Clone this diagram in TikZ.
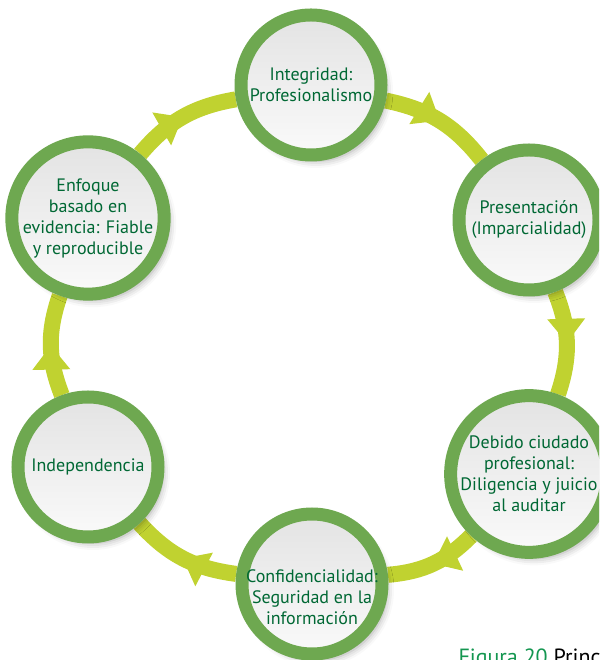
\documentclass[tikz,border=0pt]{standalone}
\usepackage{fontspec}
\setmainfont{PT Sans}
\usepackage{tikz}
\usetikzlibrary{arrows.meta, positioning, shadows.blur, decorations.markings, backgrounds}

\definecolor{ringgreen}{RGB}{110,168,80}
\definecolor{limegreen}{RGB}{192,210,48}
\definecolor{textgreen}{RGB}{0,104,52}
\definecolor{capgreen}{RGB}{20,150,80}

\begin{document}
\begin{tikzpicture}[x=1pt, y=1pt, on grid, font=\fontsize{18}{21}\selectfont,
	principle/.style={circle, draw=ringgreen, line width=13pt, minimum size=140pt, inner sep=0pt,
		top color=black!11, bottom color=black!2, text=textgreen, align=center,
		blur shadow={shadow xshift=5pt, shadow yshift=-6pt, shadow blur radius=7pt, shadow opacity=35}},
	flow/.style={draw=limegreen, line width=16pt, bend left=20, postaction={decorate},
		decoration={markings, mark=at position 0.5 with
			{\arrow[limegreen]{Triangle[width=38pt, length=24pt, line width=0pt]}}}}]
	% Frame of the figure
	\useasboundingbox (0,0) rectangle (599,660);
	\clip (0,0) rectangle (599,660);
	% Top circle: the others are placed from this one, clockwise
	\node (integ) [principle] at (311,575) {Integridad:\\Profesionalismo};

	\node (pres) [principle, below right = 135pt and 218pt of integ] {Presentación\\(Imparcialidad)};

	\node (debido) [principle, below = 254pt of pres]
	{Debido ciudado\\profesional:\\Diligencia y juicio\\al auditar};

	\node (conf) [principle, below left = 110pt and 217pt of debido,
	label={[name=conftext, text=textgreen, align=center, yshift=-13pt]center:{Confidencialidad:\\Seguridad en la\\información}}] {};

	\node (indep) [principle, above left = 117pt and 224pt of conf] {Independencia};

	\node (enfoque) [principle, above = 249pt of indep]
	{Enfoque\\basado en\\evidencia: Fiable\\y reproducible};

	% Ring with arrows, behind the circles
	\begin{scope}[on background layer]
		\path
		% clockwise
		(integ) edge [flow] (pres)
		(pres) edge [flow] (debido)
		(debido) edge [flow] (conf)
		(conf) edge [flow] (indep)
		(indep) edge [flow] (enfoque)
		(enfoque) edge [flow] (integ);
	\end{scope}

	% Caption, cut by the frame
	\node (caption) [anchor=base west, font=\fontsize{22}{26}\selectfont] at (455,-5)
	{\textcolor{capgreen}{Figura 20} Princi};
\end{tikzpicture}
\end{document}
